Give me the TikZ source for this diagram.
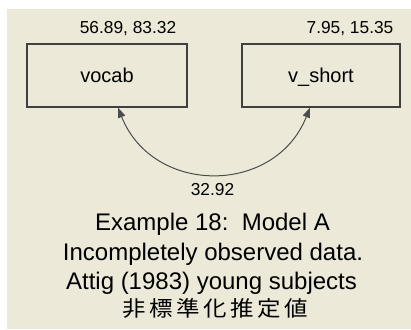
\documentclass[tikz,border=0pt]{standalone}
\usepackage{fontspec}
\setmainfont{Liberation Sans}
\newfontfamily\cjk[LetterSpace=15]{Noto Sans CJK JP}
\usetikzlibrary{arrows.meta,calc}
\definecolor{bg}{HTML}{ECE9D8}
\begin{document}
\begin{tikzpicture}[x=0.75pt,y=-0.75pt,
  varbox/.style={draw=black!75,line width=0.9pt,minimum height=47.25pt,inner sep=0pt,
    text height=11pt,text depth=0pt,font=\fontsize{15}{18}\selectfont},
  numlabel/.style={inner sep=0pt,anchor=base,font=\fontsize{13}{15}\selectfont},
  titleline/.style={inner sep=0pt,anchor=base,font=\fontsize{18}{22}\selectfont},
  cov/.style={draw=black!70,line width=0.75pt,
    {Triangle[length=7.5pt,width=5.5pt]}-{Triangle[length=7.5pt,width=5.5pt]}}]
\fill[white] (0,0) rectangle (411,329);
\fill[bg] (7,9) rectangle (411,329);
\useasboundingbox (0,0) rectangle (411,329);
\node[varbox,minimum width=120pt] (vocab) at (107,75.5) {vocab};
\node[varbox,minimum width=118.5pt] (vshort) at (321,75.5) {v\_short};
\node[numlabel] (mv1) at (128,33.5) {56.89, 83.32};
\node[numlabel] (mv2) at (350,33.5) {7.95, 15.35};
\draw[cov] ($(vocab.south)+(11,0)$) .. controls +(35,88) and +(-35,88) .. ($(vshort.south)+(-11,0)$);
\node[numlabel] (cv) at (212.5,195) {32.92};
\node[titleline] (t1) at (212.5,230.5) {Example 18:\ \ Model A};
\node[titleline] (t2) at (213,260) {Incompletely observed data.};
\node[titleline] (t3) at (211.5,289.5) {Attig (1983) young subjects};
\node[anchor=base,inner sep=0pt] (t4) at (215,316) {\scalebox{1.1}[1]{\cjk\fontsize{16}{18}\selectfont 非標準化推定値}};
\end{tikzpicture}
\end{document}
